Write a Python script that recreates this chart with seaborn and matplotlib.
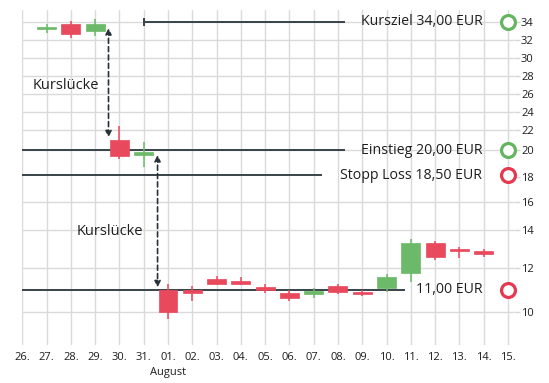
import numpy as np
import pandas as pd
import matplotlib
matplotlib.use("Agg")
import matplotlib.pyplot as plt
import matplotlib.transforms as mtransforms
import seaborn as sns

# x axis: trading days end of July -> mid August
days = ["26.", "27.", "28.", "29.", "30.", "31.", "01.", "02.", "03.", "04.",
        "05.", "06.", "07.", "08.", "09.", "10.", "11.", "12.", "13.", "14.", "15."]
month_label = ("01.", "August")

# candles (OHLC)
candle_days = ["27.", "28.", "29.", "30.", "31.", "01.", "02.", "03.", "04.", "05.",
               "06.", "07.", "08.", "09.", "10.", "11.", "12.", "13.", "14."]
opens = [33.15, 33.7, 33.0, 21.0, 19.7, 11.0, 10.98, 11.47, 11.4, 11.1,
         10.86, 10.79, 11.15, 10.9, 11.05, 11.76, 13.32, 12.99, 12.9]
highs = [33.7, 34.1, 34.3, 22.5, 20.8, 11.27, 11.15, 11.62, 11.55, 11.27,
         10.97, 11.07, 11.27, 10.97, 11.7, 13.5, 13.43, 13.1, 12.99]
lows = [32.8, 32.2, 32.4, 19.45, 19.0, 9.65, 10.5, 11.2, 11.2, 10.85,
        10.5, 10.62, 10.79, 10.7, 10.9, 11.35, 12.4, 12.5, 12.58]
closes = [33.4, 32.7, 33.7, 19.65, 19.9, 9.97, 10.85, 11.23, 11.23, 10.97,
          10.62, 10.94, 10.9, 10.8, 11.58, 13.32, 12.54, 12.86, 12.7]

# price levels
level_values = [34.0, 20.0, 18.5, 11.0]
level_labels = ["Kursziel 34,00 EUR", "Einstieg 20,00 EUR", "Stopp Loss 18,50 EUR", "11,00 EUR"]
level_good = [True, True, False, False]

y_ticks = list(range(10, 35, 2))

# the source chart uses an uneven price axis; calibration of value -> screen row
scale_vals = [8, 10, 12, 14, 16, 18, 18.5, 20, 22, 24, 26, 28, 30, 32, 34, 36]
scale_rows = np.array([355.5, 311.5, 267.5, 230, 201.5, 177, 175, 150, 130, 112,
                       94, 76, 58, 40, 21.7, 3.4])

RED = "#e8495d"
GREEN = "#6cb96a"
RED_RING = "#e5394f"
GREEN_RING = "#64b55f"
LINE = "#37434a"
TEXT = "#1e1e1e"


def forward(v):
    return -np.interp(v, scale_vals, scale_rows)


def inverse(p):
    return np.interp(-p, -scale_rows, scale_vals)


df = pd.DataFrame({"day": candle_days, "open": opens, "high": highs,
                   "low": lows, "close": closes})
df["x"] = [days.index(d) for d in df["day"]]
df["up"] = df["close"] >= df["open"]
df["color"] = np.where(df["up"], GREEN, RED)

sns.set_theme(style="whitegrid")
plt.rcParams["font.family"] = ["Open Sans", "DejaVu Sans"]

W, H = 549, 383
fig = plt.figure(figsize=(W / 100, H / 100), dpi=100)
ax = fig.add_axes([22.3 / W, 1 - 345 / H, (514 - 22.3) / W, 335 / H])
ax.set_yscale("function", functions=(forward, inverse))

# wicks + bodies
ax.vlines(df["x"], df["low"], df["high"], colors=df["color"], lw=1.1, zorder=3)
body_lo = np.minimum(df["open"], df["close"])
body_h = (df["close"] - df["open"]).abs()
ax.bar(df["x"], body_h, bottom=body_lo, width=0.78, color=df["color"],
       edgecolor=df["color"], linewidth=0.5, zorder=4)

# level lines (end where the label starts)
line_spans = [(5, 13.3), (0, 13.3), (0, 12.35), (0, 15.75)]
for val, (x0, x1) in zip(level_values, line_spans):
    ax.hlines(val, x0, x1, colors=LINE, lw=1.4, zorder=2)
ax.plot(5, level_values[0], marker="|", ms=6, mew=1.4, color=LINE, zorder=2)

for val, lab, good in zip(level_values, level_labels, level_good):
    ax.text(18.95, val, lab, ha="right", va="center", fontsize=10.2, color=TEXT, zorder=5)
    ax.plot(20, val, "o", mfc="white", mec=GREEN_RING if good else RED_RING,
            ms=10, mew=2.3, clip_on=False, zorder=6)

# gap arrows
for x, y_top, y_bot in [(3.55, 33.3, 21.27), (5.57, 19.7, 11.1)]:
    ax.annotate("", xy=(x, y_bot), xytext=(x, y_top),
                arrowprops=dict(arrowstyle="<|-|>", color="#263238", lw=1.2,
                                linestyle=(0, (3, 2)), mutation_scale=9,
                                shrinkA=0, shrinkB=0), zorder=5)
ax.text(0.44, 26.9, "Kurslücke", ha="left", va="center", fontsize=10.5, color=TEXT)
ax.text(2.25, 13.9, "Kurslücke", ha="left", va="center", fontsize=10.5, color=TEXT)

ax.set_xlim(0, 20.25)
ax.set_ylim(8.48, 35.28)
ax.set_xticks(range(len(days)))
ax.set_xticklabels(days)
ax.set_yticks(y_ticks)
ax.set_yticklabels([str(t) for t in y_ticks])
ax.yaxis.tick_right()
ax.tick_params(axis="x", length=0, pad=5, labelsize=8, labelcolor=TEXT)
ax.tick_params(axis="y", length=4, width=1, color="#d6d6d6", pad=1, labelsize=8,
               labelcolor=TEXT)

# month name under the first August day
trans = mtransforms.blended_transform_factory(ax.transData, ax.transAxes)
ax.text(days.index(month_label[0]), -0.066, month_label[1], transform=trans,
        ha="center", va="top", fontsize=8, color=TEXT)

ax.grid(True, color="#dadada", lw=1.0)
# the 18 grid line sits under the stop-loss line in the original
ax.get_ygridlines()[y_ticks.index(18)].set_visible(False)
ax.set_axisbelow(True)
for s in ax.spines.values():
    s.set_visible(False)
ax.set_facecolor("white")

fig.savefig("out.png", dpi=100, facecolor="white")
